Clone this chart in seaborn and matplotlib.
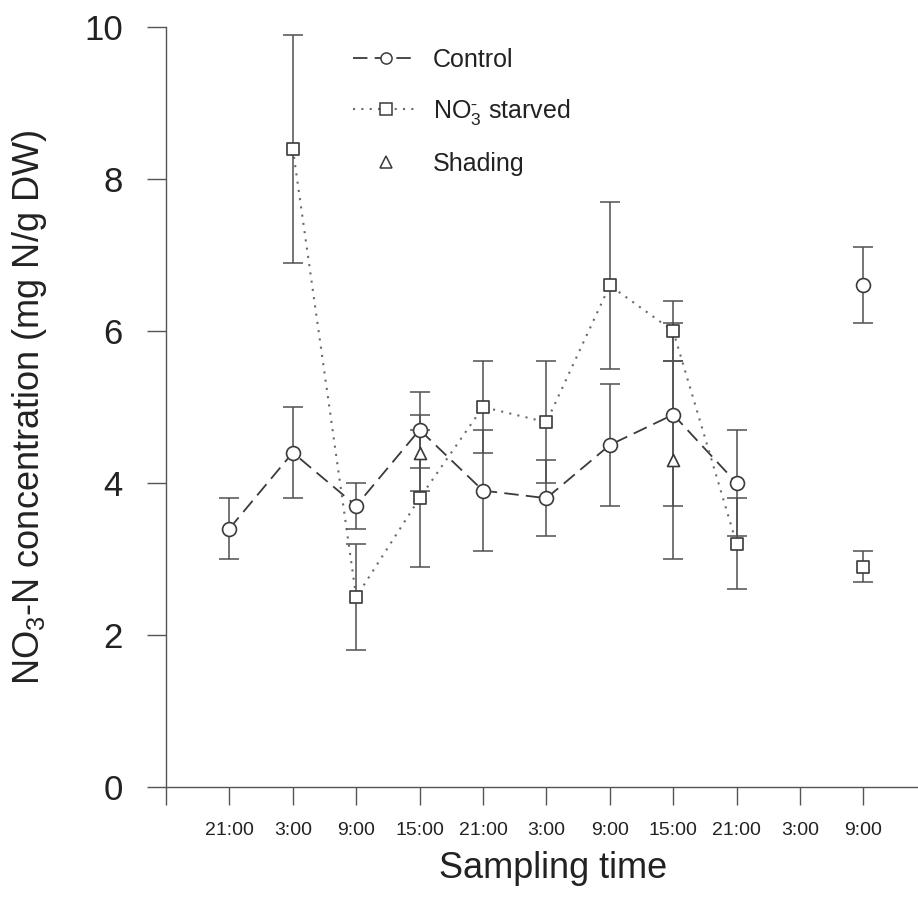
import numpy as np
import pandas as pd
import matplotlib
matplotlib.use("Agg")
import matplotlib.pyplot as plt
from matplotlib.lines import Line2D
import seaborn as sns

# Sampling times (consecutive 6-h intervals)
times = ["21:00", "3:00", "9:00", "15:00", "21:00", "3:00",
         "9:00", "15:00", "21:00", "3:00", "9:00"]

nan = np.nan
control_mean = [3.4, 4.4, 3.7, 4.7, 3.9, 3.8, 4.5, 4.9, 4.0, nan, 6.6]
control_err = [0.4, 0.6, 0.3, 0.5, 0.8, 0.5, 0.8, 1.2, 0.7, nan, 0.5]
starved_mean = [nan, 8.4, 2.5, 3.8, 5.0, 4.8, 6.6, 6.0, 3.2, nan, 2.9]
starved_err = [nan, 1.5, 0.7, 0.9, 0.6, 0.8, 1.1, 0.4, 0.6, nan, 0.2]
shading_mean = [nan, nan, nan, 4.4, nan, nan, nan, 4.3, nan, nan, nan]
shading_err = [nan, nan, nan, 0.5, nan, nan, nan, 1.3, nan, nan, nan]

treatments = ["Control", "NO3 starved", "Shading"]
labels = ["Control", r"NO$_3^{\bar{\ }}$ starved", "Shading"]


def long_table(name, mean, err):
    d = pd.DataFrame({"pos": np.arange(len(mean)), "mean": mean, "err": err})
    d["treatment"] = name
    # contiguous runs of sampled points are joined by a line
    d["run"] = d["mean"].isna().cumsum()
    return d.dropna(subset=["mean"])


df = pd.concat([
    long_table("Control", control_mean, control_err),
    long_table("NO3 starved", starved_mean, starved_err),
    long_table("Shading", shading_mean, shading_err),
], ignore_index=True)

sns.set_theme(style="ticks")
plt.rcParams["font.family"] = ["Liberation Sans", "DejaVu Sans"]
plt.rcParams["mathtext.fontset"] = "custom"
plt.rcParams["mathtext.rm"] = "Liberation Sans"
plt.rcParams["mathtext.it"] = "Liberation Sans:italic"
plt.rcParams["mathtext.bf"] = "Liberation Sans:bold"

ink = "#3a3a3a"
W, H = 918, 909
fig = plt.figure(figsize=(W / 100, H / 100), dpi=100)
ax = fig.add_axes([166 / W, 122 / H, 1 - 166 / W, 760 / H])

style = {
    "Control": dict(marker="o", s=100, ls=(0, (8, 4)), color=ink, lw=1.3),
    "NO3 starved": dict(marker="s", s=78, ls=(0, (1, 3)), color="#6a6a6a", lw=1.5),
    "Shading": dict(marker="^", s=75, ls=None, color=ink, lw=1.3),
}

for t in treatments:
    sub = df[df.treatment == t]
    st = style[t]
    if st["ls"] is not None:
        sns.lineplot(data=sub, x="pos", y="mean", units="run", estimator=None,
                     color=st["color"], linestyle=st["ls"], lw=st["lw"],
                     ax=ax, legend=False, zorder=2)
    ax.errorbar(sub["pos"], sub["mean"], yerr=sub["err"], fmt="none",
                ecolor="#505050", elinewidth=1.1, capsize=7, capthick=1.1,
                zorder=3)
    sns.scatterplot(data=sub, x="pos", y="mean", marker=st["marker"],
                    s=st["s"], facecolor="white", edgecolor=ink, linewidth=1.2,
                    ax=ax, legend=False, zorder=4)

ax.set_xlim(-1, -1 + (W - 166) / 63.4)
ax.set_ylim(0, 10)
ax.set_xticks(range(-1, len(times)))
ax.set_xticklabels([""] + times, fontsize=14)
ax.set_yticks([0, 2, 4, 6, 8, 10])
ax.set_yticklabels(["0", "2", "4", "6", "8", "10"], fontsize=25)
ax.tick_params(axis="x", direction="out", length=13, width=1.0,
               color="#555555", pad=12, labelcolor="#222222")
ax.tick_params(axis="y", direction="out", length=14, width=1.0,
               color="#555555", pad=17, labelcolor="#222222")
for side in ["top", "right"]:
    ax.spines[side].set_visible(False)
for side in ["left", "bottom"]:
    ax.spines[side].set_color("#555555")
    ax.spines[side].set_linewidth(1.0)

ax.set_xlabel("Sampling time", fontsize=26, color="#222222")
ax.xaxis.set_label_coords((553 - 166) / (W - 166), -(868 - 787) / 760)
ax.xaxis.label.set_va("center")
ax.set_ylabel(r"NO$_3$-N concentration (mg N/g DW)", fontsize=26,
              color="#222222")
ax.yaxis.set_label_coords(-(166 - 30) / (W - 166), 0.5)
ax.yaxis.label.set_va("center")

handles = []
for t in treatments:
    st = style[t]
    handles.append(Line2D([], [], color=st["color"],
                          linestyle=st["ls"] if st["ls"] is not None else "none",
                          lw=st["lw"], marker=st["marker"], markersize=8,
                          markerfacecolor="white", markeredgecolor=ink,
                          markeredgewidth=1.1))
fig.legend(handles, labels, loc="upper left",
           bbox_to_anchor=(353 / W, 1 - 48 / H), frameon=False, fontsize=18,
           handlelength=2.6, handletextpad=0.6, labelspacing=1.0,
           borderpad=0, borderaxespad=0, labelcolor="#222222")

fig.savefig("out.png", dpi=100, facecolor="white")
